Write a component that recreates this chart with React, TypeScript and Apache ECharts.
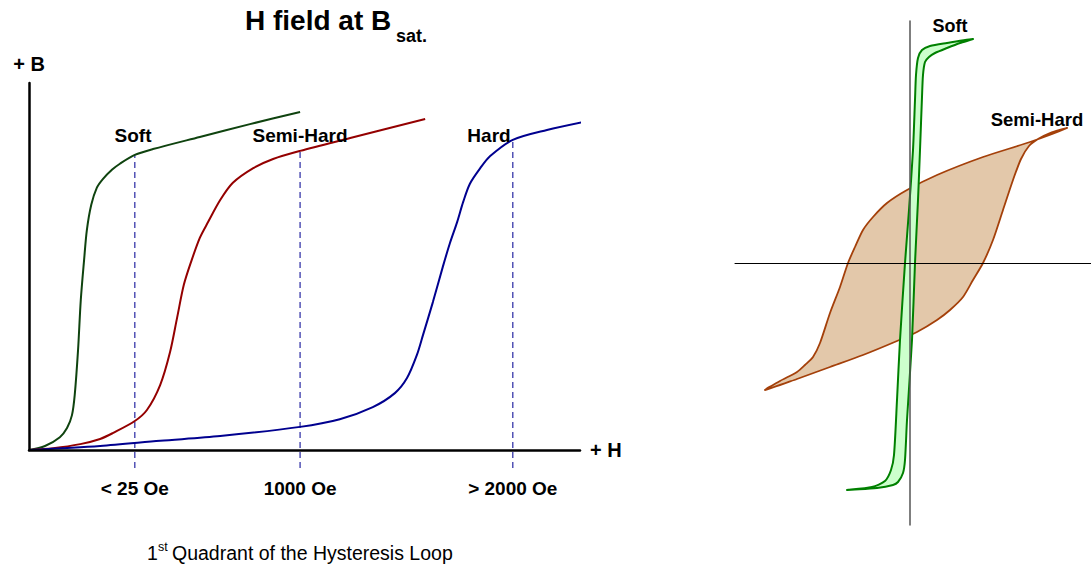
import React, { useEffect, useRef } from "react";
import * as echarts from "echarts";

const FONT = '"Liberation Sans", Arial, Helvetica, sans-serif';

// ---- Left panel: 1st quadrant initial magnetisation curves (H, B in arbitrary units 0..100)
const softH = [0, 2.9, 5.6, 6.9, 7.8, 8.3, 8.9, 9.4, 10.0, 10.5, 11.3, 12.3, 13.4, 15.1, 16.5, 19.2, 22.5, 31.0, 40.1, 49.2];
const softB = [0, 1.1, 3.5, 6.0, 9.5, 15.0, 27.2, 40.9, 51.8, 59.9, 66.8, 71.4, 73.8, 76.4, 78.0, 80.4, 82.0, 85.3, 88.8, 92.1];

const semiH = [0, 4.4, 9.3, 12.9, 15.2, 19.2, 21.4, 23.8, 25.6, 26.9, 28.1, 29.4, 31.0, 32.5, 34.7, 37.0, 40.7, 44.3, 49.2, 58.3, 71.9];
const semiB = [0, 0.5, 1.6, 3.0, 4.6, 7.9, 10.9, 17.7, 26.7, 36.2, 45.0, 51.2, 57.8, 62.1, 68.1, 72.8, 76.8, 79.3, 81.5, 85.0, 90.2];

const hardH = [0, 12.9, 23.8, 34.7, 49.2, 56.4, 62.4, 66.4, 68.6, 70.4, 71.5, 73.3, 75.1, 76.4, 77.7, 78.8, 80.0, 81.9, 83.7, 87.8, 94.0, 101.3];
const hardB = [0, 1.1, 2.5, 3.8, 6.3, 8.4, 11.7, 15.5, 19.6, 25.9, 31.3, 40.3, 49.9, 56.4, 62.1, 67.6, 72.5, 76.8, 80.1, 84.5, 87.2, 89.6];

const materials = ["Soft", "Semi-Hard", "Hard"];
const satH = [19.2, 49.2, 87.8];
const satB = [80.4, 81.5, 84.5];
const dashBottom = -4.9;
const tickLabels = ["< 25 Oe", "1000 Oe", "> 2000 Oe"];

// ---- Right panel: full hysteresis loops (H, B in arbitrary units)
const softLoopH = [
  0.63, 0.37, 0.2, 0.12, 0.08, 0.06, 0.05, 0.03, -0.01, -0.05, -0.1, -0.13, -0.16, -0.19, -0.25, -0.38, -0.63,
  -0.33, -0.17, -0.12, -0.07, -0.05, -0.03, 0.02, 0.05, 0.08, 0.1, 0.12, 0.13, 0.15, 0.19, 0.25, 0.37, 0.5,
];
const softLoopB = [
  2.24, 2.2, 2.17, 2.13, 2.05, 1.88, 1.63, 1.13, 0.53, 0, -0.77, -1.37, -1.92, -2.07, -2.18, -2.24, -2.27,
  -2.25, -2.22, -2.19, -2.1, -1.97, -1.57, -0.77, 0, 0.63, 1.13, 1.66, 1.88, 2.01, 2.06, 2.1, 2.15, 2.2,
];

const semiLoopH = [
  1.57, 1.2, 0.73, 0.27, -0.03, -0.23, -0.37, -0.47, -0.55, -0.62, -0.7, -0.8, -0.9, -0.97, -1.05, -1.13, -1.3, -1.45,
  -1.13, -0.8, -0.47, -0.13, 0.07, 0.27, 0.4, 0.53, 0.63, 0.73, 0.83, 0.93, 1.03, 1.11, 1.19, 1.28, 1.4,
];
const semiLoopB = [
  1.35, 1.21, 1.06, 0.88, 0.73, 0.6, 0.46, 0.33, 0.16, 0, -0.24, -0.5, -0.8, -0.94, -1.02, -1.09, -1.18, -1.27,
  -1.16, -1.04, -0.92, -0.78, -0.69, -0.57, -0.47, -0.34, -0.17, 0, 0.23, 0.53, 0.83, 1.04, 1.17, 1.24, 1.3,
];

const zip = (xs: number[], ys: number[]) => xs.map((x, i) => [x, ys[i]]);

function loopSeries(hs: number[], bs: number[], fill: string, stroke: string, width: number, z: number) {
  return {
    type: "custom",
    xAxisIndex: 1,
    yAxisIndex: 1,
    z,
    silent: true,
    data: [[0, 0]],
    renderItem: (_params: any, api: any) => {
      const points = hs.map((h, i) => api.coord([h, bs[i]]));
      return {
        type: "polygon",
        shape: { points, smooth: 0.25 },
        style: { fill, stroke, lineWidth: width },
      };
    },
  };
}

function txt(text: string, x: number, y: number, size: number, bold = true, align = "center") {
  return {
    type: "text",
    x,
    y,
    z: 100,
    style: {
      text,
      fill: "#000",
      fontSize: size,
      fontWeight: bold ? "bold" : "normal",
      fontFamily: FONT,
      align,
      verticalAlign: "middle",
    },
  };
}

export default function App() {
  const ref = useRef<HTMLDivElement>(null);

  useEffect(() => {
    if (!ref.current) return;
    const chart = echarts.init(ref.current, null, { renderer: "svg" });

    const curveColors = ["#0f430f", "#940000", "#00008f"];
    const curves = [zip(softH, softB), zip(semiH, semiB), zip(hardH, hardB)];

    const option: any = {
      animation: false,
      backgroundColor: "#fff",
      grid: [
        { left: 29, top: 83, width: 551, height: 367 },
        { left: 735, top: 21, width: 356, height: 504 },
      ],
      xAxis: [
        {
          type: "value",
          gridIndex: 0,
          min: 0,
          max: 100,
          z: 10,
          name: "+ H",
          nameLocation: "end",
          nameGap: 10,
          nameTextStyle: { fontSize: 20, fontWeight: "bold", color: "#000", fontFamily: FONT, verticalAlign: "middle" },
          axisLine: { show: true, lineStyle: { color: "#000", width: 2.5 } },
          axisTick: { show: false },
          splitLine: { show: false },
          axisLabel: {
            show: true,
            customValues: satH,
            margin: 29,
            color: "#000",
            fontSize: 19,
            fontWeight: "bold",
            fontFamily: FONT,
            formatter: (v: number) => {
              let best = 0;
              satH.forEach((s, i) => {
                if (Math.abs(s - v) < Math.abs(satH[best] - v)) best = i;
              });
              return tickLabels[best];
            },
          },
        },
        {
          type: "value",
          gridIndex: 1,
          min: -1.75,
          max: 1.81,
          z: 10,
          axisLine: { show: true, onZero: true, lineStyle: { color: "#000", width: 1 } },
          axisTick: { show: false },
          axisLabel: { show: false },
          splitLine: { show: false },
        },
      ],
      yAxis: [
        {
          type: "value",
          gridIndex: 0,
          min: 0,
          max: 100,
          z: 10,
          name: "+ B",
          nameLocation: "end",
          nameGap: 9,
          nameTextStyle: { fontSize: 20, fontWeight: "bold", color: "#000", fontFamily: FONT },
          axisLine: { show: true, lineStyle: { color: "#000", width: 2.5 } },
          axisTick: { show: false },
          axisLabel: { show: false },
          splitLine: { show: false },
        },
        {
          type: "value",
          gridIndex: 1,
          min: -2.62,
          max: 2.42,
          z: 10,
          axisLine: { show: true, onZero: true, lineStyle: { color: "#555", width: 1.5 } },
          axisTick: { show: false },
          axisLabel: { show: false },
          splitLine: { show: false },
        },
      ],
      series: [
        ...satH.map((h, i) => ({
          type: "line",
          name: materials[i] + " Bsat",
          xAxisIndex: 0,
          yAxisIndex: 0,
          clip: false,
          symbol: "none",
          silent: true,
          z: 1,
          data: [
            [h, dashBottom],
            [h, satB[i]],
          ],
          lineStyle: { color: "#4646b0", width: 1.4, type: [6, 4] },
        })),
        ...curves.map((d, i) => ({
          type: "line",
          name: materials[i],
          xAxisIndex: 0,
          yAxisIndex: 0,
          clip: false,
          symbol: "none",
          smooth: 0.3,
          silent: true,
          z: 3,
          data: d,
          lineStyle: { color: curveColors[i], width: 2 },
        })),
        loopSeries(semiLoopH, semiLoopB, "#e3c8aa", "#a4400a", 1.8, 2),
        loopSeries(softLoopH, softLoopB, "#ccffcc", "#008000", 2, 3),
      ],
      graphic: [
        txt("H field at B", 245, 20, 28, true, "left"),
        txt("sat.", 396, 36, 18, true, "left"),
        txt("Soft", 133, 135, 19),
        txt("Semi-Hard", 300, 135, 19),
        txt("Hard", 489, 135, 19),
        txt("1", 147, 553, 19.5, false, "left"),
        txt("st", 158, 547, 12.5, false, "left"),
        txt("Quadrant of the Hysteresis Loop", 172, 553, 19.5, false, "left"),
        txt("Soft", 950, 26, 18),
        txt("Semi-Hard", 1037, 119, 18.5),
      ],
    };

    chart.setOption(option);
    return () => chart.dispose();
  }, []);

  return (
    <div
      ref={ref}
      style={{ position: "absolute", left: 0, top: 0, width: 1091, height: 564, background: "#fff" }}
    />
  );
}
